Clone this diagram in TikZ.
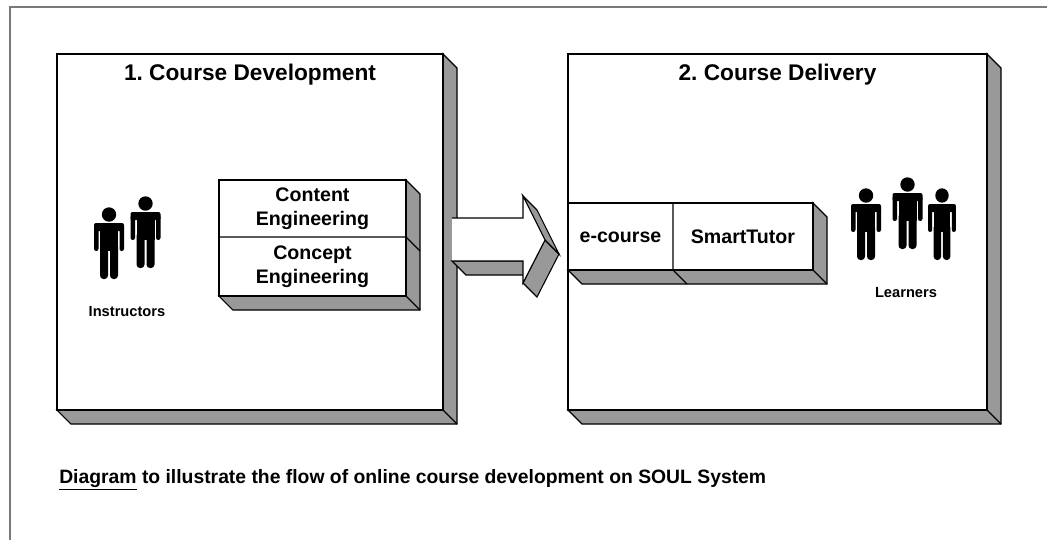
\documentclass[tikz,border=0pt]{standalone}
\usepackage{fontspec}
\setmainfont{Liberation Sans}
\frenchspacing
\definecolor{shadegray}{HTML}{999999}
\definecolor{framegray}{HTML}{7A7A7A}
\tikzset{
  face/.style={fill=shadegray, draw=black, line width=0.8pt, line join=miter},
  frontface/.style={fill=white, draw=black, line width=0.8pt},
  frameline/.style={draw=framegray, line width=0.9pt},
  titletext/.style={font=\fontsize{17}{20}\selectfont\bfseries, inner sep=0pt},
  boxtext/.style={font=\fontsize{14.7}{18}\selectfont\bfseries, align=center, inner sep=0pt},
  labeltext/.style={font=\fontsize{11}{13}\selectfont\bfseries, inner sep=0pt},
  captiontext/.style={font=\fontsize{14.5}{17}\selectfont\bfseries, inner sep=0pt},
  person/.pic={
    \fill[black] (0,-8.5) circle[radius=5.4pt];
    \fill[black, rounded corners=1.5pt] (-15,8) -- (-15,0) -- (15,0) -- (15,8) -- cycle;
    \fill[black, rounded corners=1.6pt] (-15,3) -- (-15,28) -- (-10.5,28) -- (-10.5,3) -- cycle;
    \fill[black, rounded corners=1.6pt] (10.5,3) -- (10.5,28) -- (15,28) -- (15,3) -- cycle;
    \fill[black] (-9,0) rectangle (9,28);
    \fill[black, rounded corners=2.6pt] (-9,20) -- (-9,56) -- (-1,56) -- (-1,20) -- cycle;
    \fill[black, rounded corners=2.6pt] (1,20) -- (1,56) -- (9,56) -- (9,20) -- cycle;
  }
}
% box: x1 y1 x2 y2 depth
\newcommand\ThreeDBox[5]{%
  \filldraw[face] (#3,#2) -- (#3+#5,#2+#5) -- (#3+#5,#4+#5) -- (#1+#5,#4+#5) -- (#1,#4) -- (#3,#4) -- cycle;
  \draw[line width=0.8pt] (#3,#4) -- (#3+#5,#4+#5);
  \filldraw[frontface] (#1,#2) rectangle (#3,#4);
}
\begin{document}
\begin{tikzpicture}[x=0.75pt,y=-0.75pt]
\useasboundingbox (0,0) rectangle (1047,540);
\fill[white] (0,0) rectangle (1047,540);
% outer frame
\draw[frameline] (10,540) -- (10,7) -- (1047,7);

% box 1
\ThreeDBox{57}{54}{443}{410}{14}
\node[titletext] (t1) at (250,75) {1. Course Development};

% inner engineering box
\ThreeDBox{219}{180}{406}{296}{14}
\draw[line width=0.8pt] (219,237) -- (406,237) -- (420,251);
\node[boxtext] (ce) at (312.5,209) {Content\\Engineering};
\node[boxtext] (cc) at (312.5,267) {Concept\\Engineering};

% instructors
\pic at (109,223) {person};
\pic at (145.5,212) {person};
\node[labeltext] (ins) at (127,312) {Instructors};

% arrow
\filldraw[face] (452,261) -- (523,261) -- (537,275) -- (466,275) -- cycle;
\filldraw[face] (545,240) -- (523,283) -- (537,297) -- (559,254) -- cycle;
\filldraw[face] (523,196) -- (545,240) -- (559,254) -- (537,210) -- cycle;
\fill[white] (452,218) -- (523,218) -- (523,196) -- (545,240) -- (523,283) -- (523,261) -- (452,261) -- cycle;
\draw[line width=0.8pt, line join=miter] (452,218) -- (523,218) -- (523,196) -- (545,240) -- (523,283) -- (523,261) -- (452,261);

% box 2
\ThreeDBox{568}{54}{987}{410}{14}
\node[titletext] (t2) at (777.5,75) {2. Course Delivery};

% e-course / SmartTutor box
\ThreeDBox{568}{203}{813}{270}{14}
\draw[line width=0.8pt] (673,203) -- (673,270) -- (687,284);
\node[boxtext] (ec) at (620.5,237) {e-course};
\node[boxtext] (st) at (743,237) {SmartTutor};

% learners
\pic at (866,204) {person};
\pic at (907.5,193) {person};
\pic[xscale=0.93] at (942,204) {person};
\node[labeltext] (lrn) at (906,293) {Learners};

% caption
\node[captiontext, anchor=base west] (cap) at (59,483) {\underline{Diagram} to illustrate the flow of online course development on SOUL System};
\end{tikzpicture}
\end{document}
